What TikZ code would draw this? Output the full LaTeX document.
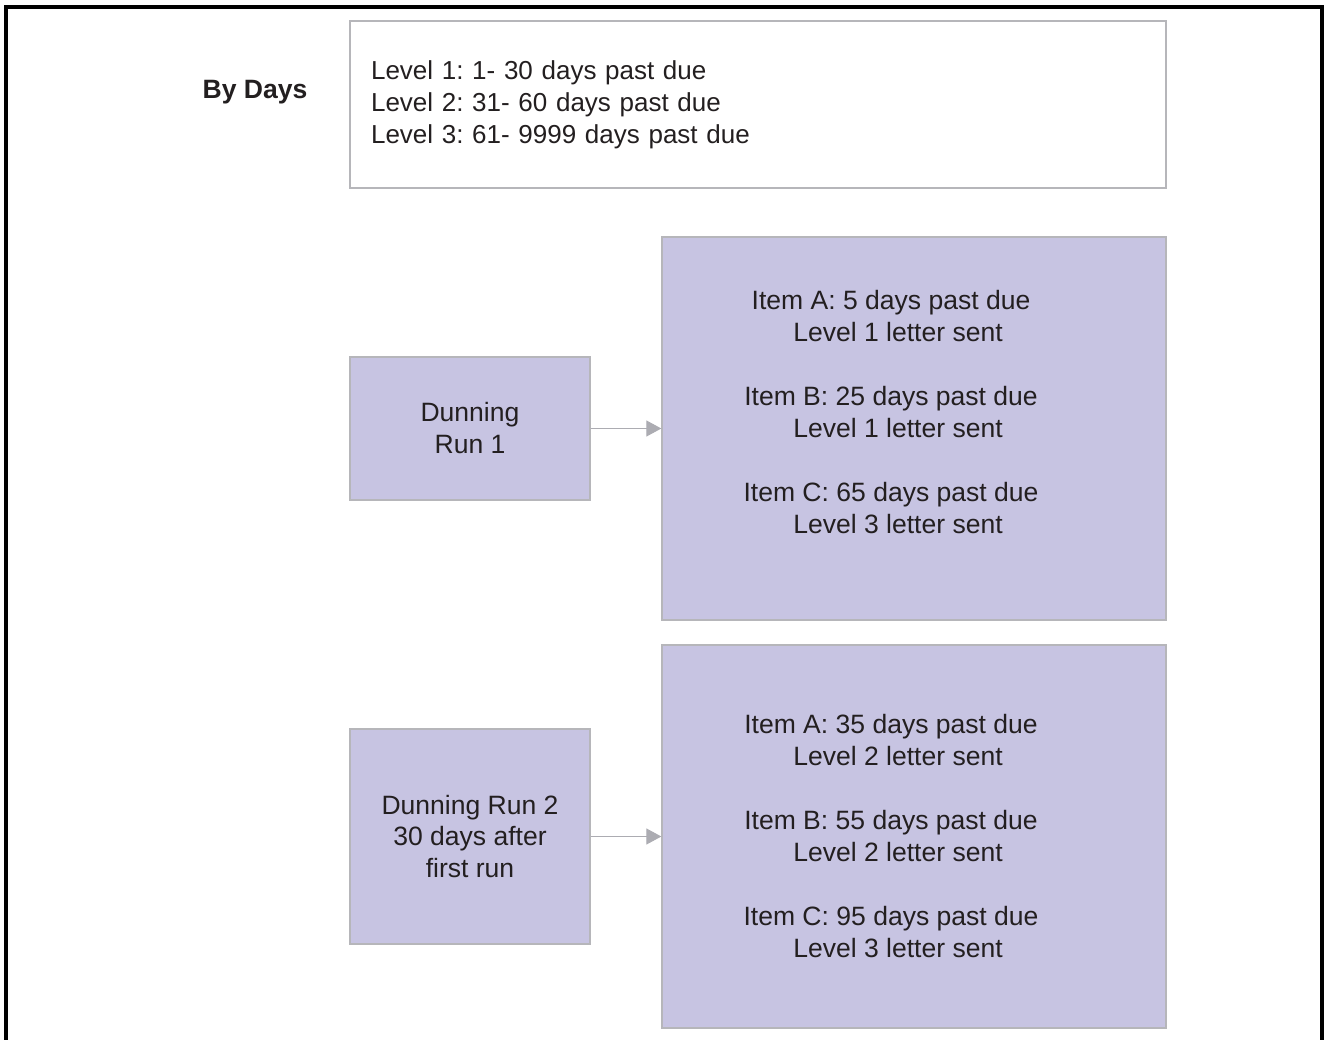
\documentclass[tikz,border=0pt]{standalone}
\usepackage{fontspec}
\setmainfont{Liberation Sans}
\usetikzlibrary{arrows.meta}
\definecolor{runfill}{RGB}{199,196,226}
\definecolor{boxline}{RGB}{182,182,186}
\definecolor{flowgray}{RGB}{172,172,178}
\definecolor{inkgray}{RGB}{35,31,32}
\newcommand{\ind}{\hspace*{0.28cm}}
\frenchspacing
\begin{document}
\begin{tikzpicture}[x=0.02cm, y=-0.02cm,
  txt/.style={font=\fontsize{15.1}{18.2}\selectfont, text=inkgray},
  levelbox/.style={txt, font=\fontsize{14.8}{18.2}\selectfont, rectangle,
    draw=boxline, line width=0.8pt, fill=white,
    minimum width=16.32cm, minimum height=3.34cm, text width=15.48cm,
    inner xsep=0.42cm, align=left},
  runbox/.style={txt, rectangle, draw=boxline, line width=0.8pt, fill=runfill,
    minimum width=4.8cm, align=center},
  itembox/.style={rectangle, draw=boxline, line width=0.8pt, fill=runfill,
    minimum width=10.08cm, minimum height=7.66cm},
  itemtxt/.style={txt, align=center},
  flow/.style={draw=flowgray, line width=0.6pt,
    -{Triangle[length=0.3cm, width=0.32cm]}},
]
\useasboundingbox (0,0) rectangle (1329,1040);

% Frame (open at the bottom)
\draw[line width=2pt] (6,1040) -- (6,7) -- (1322,7) -- (1322,1040);

% Levels
\node[txt, font=\fontsize{15.1}{18.2}\selectfont\bfseries] (bydays) at (255,92) {By Days};
\node[levelbox] (levels) at (758,104.5) {Level 1: 1- 30 days past due\\
  Level 2: 31- 60 days past due\\
  Level 3: 61- 9999 days past due};

% First run
\node[runbox, minimum height=2.86cm] (run1) at (470,428.5) {Dunning\\Run 1};
\node[itembox] (items1) at (914,428.5) {};
\node[itemtxt] (items1txt) at (891,412) {Item A: 5 days past due\\
  \ind Level 1 letter sent\\[18.2pt]
  Item B: 25 days past due\\
  \ind Level 1 letter sent\\[18.2pt]
  Item C: 65 days past due\\
  \ind Level 3 letter sent};
\draw[flow] (run1.east) -- (run1.east -| items1.west);

% Second run
\node[runbox, minimum height=4.3cm] (run2) at (470,836.5) {Dunning Run 2\\
  30 days after\\first run};
\node[itembox] (items2) at (914,836.5) {};
\node[itemtxt] (items2txt) at (891,836) {Item A: 35 days past due\\
  \ind Level 2 letter sent\\[18.2pt]
  Item B: 55 days past due\\
  \ind Level 2 letter sent\\[18.2pt]
  Item C: 95 days past due\\
  \ind Level 3 letter sent};
\draw[flow] (run2.east) -- (run2.east -| items2.west);

\end{tikzpicture}
\end{document}
